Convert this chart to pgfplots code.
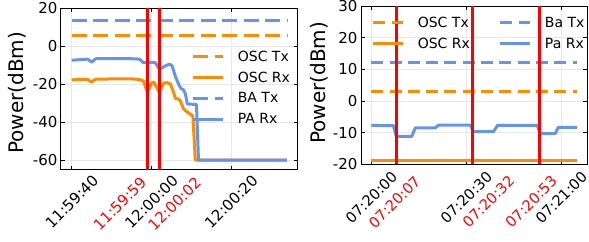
\documentclass[border=0pt]{standalone}
\usepackage{pgfplots}
\pgfplotsset{compat=1.18}
\usepackage{fontspec}
\setmainfont{DejaVu Sans}
\definecolor{cOr}{HTML}{FF8C00}
\definecolor{cBl}{HTML}{6495ED}
\pgfplotsset{
  myax/.style={
    scale only axis, clip=false,
    tick align=inside,
    grid=major, major grid style={black!9, line width=0.7pt},
    axis line style={line width=1pt, black},
    major tick style={line width=0.8pt, black},
    major tick length=4pt,
    tick label style={font=\fontsize{15}{18}\selectfont},
    label style={font=\fontsize{20}{24}\selectfont},
    legend cell align=left,
    legend image code/.code={\draw[##1] (0pt,0pt) -- (30pt,0pt);},
    every axis plot/.append style={line width=3pt, line join=round},
  }
}
\begin{document}
\begin{tikzpicture}
\useasboundingbox (0,0) rectangle (589pt,241pt);
% ---------------- left panel ----------------
\begin{axis}[myax,
  at={(61pt,71.5pt)}, anchor=south west,
  width=236.7pt, height=161.5pt,
  xmin=-22.7, xmax=36.7, ymin=-65, ymax=20,
  xtick={-20,0,20}, xticklabels={11:59:40,12:00:00,12:00:20},
  xticklabel style={yshift=-32pt, rotate=45, anchor=center},
  ytick={-60,-40,-20,0,20}, yticklabels={-60,-40,-20,0,20},
  ylabel={Power(dBm)},
  ylabel style={at={(axis description cs:-0.184,0.474)}, anchor=center},
  legend style={draw=none, fill=none, at={(axis description cs:0.552,0.748)}, anchor=north west,
    font=\fontsize{14}{16}\selectfont, row sep=5pt, column sep=11pt, inner sep=0pt,
    nodes={inner sep=2pt}},
]
\addplot[cOr, dash pattern=on 15pt off 6.5pt] coordinates {(-20,5.4) (34,5.4)};
\addlegendentry{OSC Tx}
\addplot[cOr] coordinates {
(-20,-17.9) (-18,-17.5) (-16,-17.6) (-15,-19) (-14,-17.4) (-5,-17.3) (-3,-17.6) (-2,-18.5)
(-1,-24.5) (0,-19.5) (0.6,-19) (2,-24.5) (3,-19.5) (4,-19.3) (4.75,-20) (5.5,-24)
(6,-27.5) (6.8,-28) (7.3,-29) (8,-33) (8.5,-34) (9.5,-35.5) (10.4,-37) (11,-60) (34,-60)};
\addlegendentry{OSC Rx}
\addplot[cBl, dash pattern=on 15pt off 6.5pt] coordinates {(-20,13.5) (34,13.5)};
\addlegendentry{BA Tx}
\addplot[cBl] coordinates {
(-20,-7.5) (-18,-7.2) (-16,-6.9) (-15,-8.5) (-14,-6.7) (-10,-6.6) (-5,-6.7) (-3,-6.9)
(-2,-8.8) (0,-8.6) (1,-8.8) (2,-12.3) (3,-11) (4,-10) (4.6,-9.6) (5.2,-10.5) (6,-16)
(7,-21) (7.5,-22.5) (8,-23) (8.5,-25) (9,-30.5) (11.3,-30.8) (11.8,-60) (34,-60)};
\addlegendentry{PA Rx}
\addplot[red, forget plot] coordinates {(-1,-65) (-1,20)};
\addplot[red, forget plot] coordinates {(2,-65) (2,20)};
\node[red, font=\fontsize{15}{18}\selectfont, yshift=-34pt, rotate=45, anchor=center] at (axis cs:-7.95,-65) {11:59:59};
\node[red, font=\fontsize{15}{18}\selectfont, yshift=-34.5pt, rotate=45, anchor=center] at (axis cs:5.8,-65) {12:00:02};
\end{axis}
% ---------------- right panel ----------------
\begin{axis}[myax,
  at={(361pt,76.7pt)}, anchor=south west,
  width=226.3pt, height=158.3pt,
  xmin=-3.25, xmax=68.25, ymin=-20, ymax=30,
  xtick={0,30,60}, xticklabels={07:20:00,07:20:30,07:21:00},
  xticklabel style={yshift=-33.2pt, rotate=45, anchor=center, font=\fontsize{14.6}{17}\selectfont},
  ytick={-20,-10,0,10,20,30}, yticklabels={-20,-10,0,10,20,30},
  ylabel={Power(dBm)},
  ylabel style={at={(axis description cs:-0.186,0.514)}, anchor=center},
  legend columns=2, transpose legend,
  legend style={draw=none, fill=none, at={(axis description cs:0.047,0.945)}, anchor=north west,
    font=\fontsize{14}{16}\selectfont, row sep=5pt, column sep=11pt, inner sep=0pt,
    nodes={inner sep=2pt},
    /tikz/every even column/.append style={column sep=27pt}},
]
\addplot[cOr, dash pattern=on 12pt off 6.3pt] coordinates {(0,3.0) (65,3.0)};
\addlegendentry{OSC Tx}
\addplot[cOr] coordinates {(0,-18.7) (65,-18.7)};
\addlegendentry{OSC Rx}
\addplot[cBl, dash pattern=on 12pt off 6.3pt] coordinates {(0,12.2) (65,12.2)};
\addlegendentry{Ba Tx}
\addplot[cBl] coordinates {
(0,-7.7) (7.0,-7.8) (7.9,-11.2) (12.8,-11.2) (13.9,-8.5) (20.2,-8.5) (21.3,-7.6) (31.3,-7.6)
(32.3,-9.7) (38.6,-9.7) (39.9,-7.7) (52.4,-7.7) (53.4,-10.3) (58.1,-10.3) (59.1,-8.3) (65,-8.3)};
\addlegendentry{Pa Rx}
\addplot[red, forget plot] coordinates {(7.9,-20) (7.9,30)};
\addplot[red, forget plot] coordinates {(31.9,-20) (31.9,30)};
\addplot[red, forget plot] coordinates {(53,-20) (53,30)};
\node[red, font=\fontsize{14.6}{17}\selectfont, yshift=-37.8pt, rotate=45, anchor=center] at (axis cs:7.33,-20) {07:20:07};
\node[red, font=\fontsize{14.6}{17}\selectfont, yshift=-37.2pt, rotate=45, anchor=center] at (axis cs:37.0,-20) {07:20:32};
\node[red, font=\fontsize{14.6}{17}\selectfont, yshift=-37.5pt, rotate=45, anchor=center] at (axis cs:50.5,-20) {07:20:53};
\end{axis}
\end{tikzpicture}
\end{document}
